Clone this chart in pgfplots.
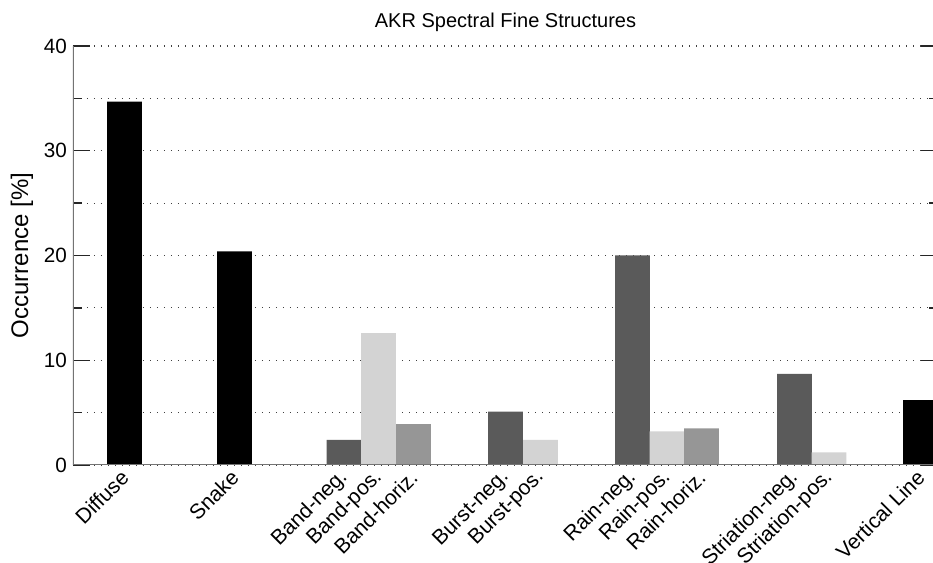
\documentclass[border=0pt]{standalone}
\usepackage{pgfplots}
\pgfplotsset{compat=1.18}
\usepackage{fontspec}
\setmainfont{Liberation Sans}
\definecolor{cblack}{HTML}{000000}
\definecolor{cneg}{HTML}{5A5A5A}
\definecolor{cpos}{HTML}{D3D3D3}
\definecolor{chor}{HTML}{969696}
\begin{document}
\begin{tikzpicture}
\useasboundingbox (0,0) rectangle (699.75pt,422.25pt);
\begin{axis}[
  at={(54.75pt,73.5pt)}, anchor=south west,
  width=648.75pt, height=314.25pt, scale only axis,
  xmin=73, xmax=938, ymin=0, ymax=40,
  axis line style={draw=none},
  /pgf/number format/assume math mode=true,
  ytick={0,10,20,30,40},
  minor ytick={5,15,25,35},
  ymajorgrids, yminorgrids,
  major grid style={draw=black!75, line width=0.9pt, dash pattern=on 0.9pt off 4.35pt},
  minor grid style={draw=black!75, line width=0.9pt, dash pattern=on 0.9pt off 4.35pt},
  tick align=inside,
  ytick pos=both,
  major tick length=12.75pt,
  minor tick length=6.75pt,
  ytick style={draw=black!85, line width=1pt},
  yticklabel style={font=\fontsize{15.5}{18}\selectfont, xshift=-1pt},
  xtick={124.5,234.5,344,378.5,413.5,505.5,540.5,632.5,667,701.5,794.5,829,920.5},
  xticklabels={Diffuse,Snake,Band-neg.,Band-pos.,Band-horiz.,Burst-neg.,Burst-pos.,Rain-neg.,Rain-pos.,Rain-horiz.,Striation-neg.,Striation-pos.,Vertical Line},
  xtick style={draw=none},
  xticklabel style={font=\fontsize{15.8}{19}\selectfont, rotate=45, anchor=east, inner sep=0pt, xshift=-4.5pt, yshift=-5pt},
  title={AKR Spectral Fine Structures},
  title style={font=\fontsize{15}{18}\selectfont, at={(rel axis cs:0.5,1)}, anchor=base, yshift=8pt},
  ylabel={Occurrence [\%]},
  every axis y label/.style={at={(rel axis cs:-0.059,0.5)}, rotate=90, anchor=center, font=\fontsize{18}{21}\selectfont},
]
\addplot[ybar, bar shift=0pt, bar width=34.6, fill=cblack, draw=none]
  coordinates {(124.5,34.7) (234.5,20.4) (920.5,6.2)};
\addplot[ybar, bar shift=0pt, bar width=34.6, fill=cneg, draw=none]
  coordinates {(344,2.4) (505.5,5.1) (632.5,20.0) (794.5,8.7)};
\addplot[ybar, bar shift=0pt, bar width=34.6, fill=cpos, draw=none]
  coordinates {(378.5,12.6) (540.5,2.4) (667,3.2) (829,1.2)};
\addplot[ybar, bar shift=0pt, bar width=34.6, fill=chor, draw=none]
  coordinates {(413.5,3.9) (701.5,3.5)};
\draw[draw=black!55, line width=1.1pt] (rel axis cs:0,1) -- (rel axis cs:0,0) -- (rel axis cs:1,0);
\end{axis}
\end{tikzpicture}
\end{document}
